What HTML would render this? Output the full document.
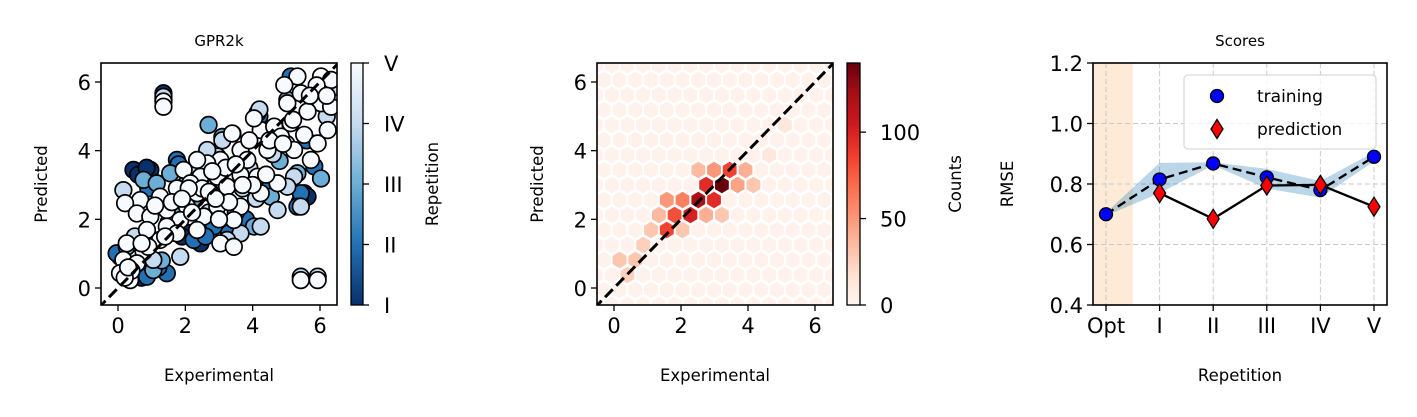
<!DOCTYPE html>
<html><head><meta charset="utf-8"><style>
html,body{margin:0;padding:0;background:#fff;}
svg{display:block;font-family:"DejaVu Sans","Liberation Sans",sans-serif;}
</style></head><body>
<svg id="fig" width="1417" height="417" viewBox="0 0 1417 417" xmlns="http://www.w3.org/2000/svg">
<defs>
<linearGradient id="blues" x1="0" y1="1" x2="0" y2="0">
<stop offset="0" stop-color="#08306b"/><stop offset="0.25" stop-color="#2171b5"/><stop offset="0.5" stop-color="#6baed6"/><stop offset="0.75" stop-color="#c6dbef"/><stop offset="1" stop-color="#f7fbff"/>
</linearGradient>
<linearGradient id="reds" x1="0" y1="1" x2="0" y2="0">
<stop offset="0" stop-color="#fff5f0"/><stop offset="0.125" stop-color="#fee0d2"/><stop offset="0.25" stop-color="#fcbba1"/><stop offset="0.375" stop-color="#fc9272"/><stop offset="0.5" stop-color="#fb6a4a"/><stop offset="0.625" stop-color="#ef3b2c"/><stop offset="0.75" stop-color="#cb181d"/><stop offset="0.875" stop-color="#a50f15"/><stop offset="1" stop-color="#67000d"/>
</linearGradient>
<clipPath id="clip1"><rect x="101" y="63" width="236" height="242"/></clipPath>
<clipPath id="clip2"><rect x="597" y="63" width="236" height="242"/></clipPath>
<clipPath id="clip3"><rect x="1093" y="63" width="294" height="242"/></clipPath>
</defs>
<g id="p1"></g>
<g id="p2"></g>
<g id="p3"></g>
</svg>
<script>
// ---------- Panel 1 data (Experimental, Predicted) per repetition ----------
const rep1X=[0.46,0.96,1.35,5.53,2.45,0.06,5.63,1.35,0.7,2.1,0.6,0.85,5.4,3.0,1.9];
const rep1Y=[3.44,3.44,5.67,2.76,1.30,0.91,2.66,5.5,0.3,1.6,3.3,3.5,2.5,1.9,1.5];
const rep2X=[1.75,5.83,1.45,0.86,5.43,5.33,2.85,2.25,-0.04,6.03,5.13,3.3,1.1,4.5,1.8,1.2,2.6,4.2,5.6,3.8,0.9];
const rep2Y=[3.73,3.54,0.43,0.33,2.76,2.37,1.79,1.40,1.01,6.06,6.16,1.6,2.4,2.9,3.6,0.6,1.5,5.0,4.3,2.0,2.9];
const rep3X=[2.69,5.33,6.03,0.76,1.15,1.55,1.05,4.54,4.04,0.26,5.03,3.5,2.0,1.3,3.1,2.3,4.8,1.6,0.3];
const rep3Y=[4.75,3.34,3.19,3.15,3.05,3.34,0.52,2.66,1.79,1.20,5.48,2.2,3.0,0.8,4.4,2.6,3.7,2.3,0.5];
const rep4X=[4.14,0.16,6.03,5.43,4.24,3.64,3.24,5.23,5.03,2.95,2.65,5.43,5.93,1.85,1.05,4.74,1.35,6.43,4.2,6.2,2.7,3.9,3.4,3.1,2.2,1.5,4.6,5.0,0.5,3.7,2.9,4.1];
const rep4Y=[5.09,2.85,5.77,2.37,1.79,1.59,1.40,3.24,2.95,3.83,4.02,0.33,0.33,0.91,0.82,2.27,5.57,5.86,5.2,5.0,2.2,3.5,4.5,4.3,3.3,1.9,3.9,4.2,1.5,2.9,3.0,2.6];
const rep5X=[5.33,4.94,6.03,6.33,5.43,6.03,6.33,5.63,5.03,4.24,4.64,4.84,5.53,6.23,3.39,3.64,4.44,5.23,3.84,3.04,2.65,2.35,1.95,2.45,2.95,3.64,4.14,4.74,3.24,2.35,1.75,1.25,0.66,0.21,0.56,0.96,1.45,2.05,2.55,2.95,3.64,4.24,3.44,1.85,1.45,0.86,1.25,1.75,2.35,3.04,3.44,0.26,0.76,0.16,0.06,0.36,0.56,5.43,5.93,1.35,5.73,5.93,5.13,4.04,1.35,2.75,2.15,5.9,6.2,5.2,4.5,3.9,3.2,2.8,2.5,3.5,4.0,2.1,1.6,1.1,0.4,0.2,0.9,1.9,2.7,3.3,3.0,4.4,4.9,5.7,1.4,0.7,0.3,2.2,2.9,3.7];
const rep5Y=[6.16,5.91,6.16,6.06,5.67,5.38,5.28,5.14,5.38,4.60,4.70,4.41,4.46,4.60,4.50,4.02,4.02,4.02,3.73,3.73,3.63,3.73,3.44,3.24,3.24,3.29,3.24,3.05,2.95,2.76,2.90,2.66,2.56,2.47,2.17,2.08,2.27,2.37,2.08,2.37,2.37,2.76,1.98,1.98,1.79,1.69,1.40,1.59,1.69,1.30,1.20,1.30,1.06,0.82,0.43,0.23,0.72,0.23,0.23,5.43,3.73,4.21,4.80,4.94,5.28,2.76,3.05,5.9,5.6,4.9,4.3,4.3,3.5,3.4,2.9,3.6,3.0,2.9,2.5,2.4,0.5,0.3,1.2,2.6,2.8,2.5,2.0,3.3,4.2,5.6,1.5,1.3,0.6,2.2,2.6,3.0];
const repColors=["#08306b","#2171b5","#6baed6","#c6dbef","#f7fbff"];
const repLabels=["I","II","III","IV","V"];
const axisTicks=[0,2,4,6];

// ---------- Panel 2 hexbin: notable cells (x centre, y centre, count) ----------
const hexX=[3.22,2.52,2.75,2.99,2.28,1.81,3.46,1.58,2.05,1.58,2.99,2.52,3.69,3.93,4.16,1.34,2.75,3.22,2.05,1.11,0.87,0.17,0.64,0.40,5.93,4.63,5.10];
const hexY=[3.00,2.56,3.00,2.56,2.13,2.13,3.44,1.69,2.56,2.56,3.44,3.44,3.00,3.44,3.00,2.13,2.13,2.13,1.69,1.69,1.25,0.82,0.82,0.38,5.19,3.87,4.75];
const hexCount=[140,120,95,95,100,80,85,85,60,50,50,35,45,40,30,35,40,30,30,30,25,30,30,25,22,12,12];
const hexBackground=3;
const countTicks=[0,50,100];
const countMax=140;

// ---------- Panel 3 scores ----------
const repCats=["Opt","I","II","III","IV","V"];
const trainRMSE=[0.70,0.815,0.868,0.822,0.78,0.89];
const bandUpper=[0.705,0.87,0.872,0.85,0.81,0.905];
const bandLower=[0.695,0.77,0.862,0.785,0.755,0.875];
const predRMSE=[null,0.77,0.685,0.795,0.797,0.725];
const rmseTicks=[0.4,0.6,0.8,1.0,1.2];

const NS="http://www.w3.org/2000/svg";
const TICK_FS=21, LAB_FS=16.5, TITLE_FS=15;
function mk(parent,tag,attrs,text){const e=document.createElementNS(NS,tag);for(const k in attrs)e.setAttribute(k,attrs[k]);if(text!==undefined)e.textContent=text;parent.appendChild(e);return e;}

// ===== Panel 1 =====
const p1=document.getElementById('p1');
const x1=v=>118+(v-0)*(320-118)/6;
const y1=v=>288-(v-0)*(288-82)/6;
function frameAxes(g,L,T,W,H){
  const r=mk(g,'rect',{x:L,y:T,width:W,height:H,fill:'none',stroke:'#000','stroke-width':1.6});
  
  
}
function squareAxes(g,L,T,W,H){
  const bg=mk(g,'rect',{x:L,y:T,width:W,height:H,fill:'#fff'});
  
  
}
function squareTicks(g,xs,ys,B,L){
  axisTicks.forEach(t=>{
    const tx=mk(g,'line',{x1:xs(t),x2:xs(t),y1:B,y2:B+6,stroke:'#000','stroke-width':1.3});
    
    
    const lx=mk(g,'text',{x:xs(t),y:B+28,'font-size':TICK_FS,'text-anchor':'middle'},String(t));
    
    
    const ty=mk(g,'line',{x1:L-6,x2:L,y1:ys(t),y2:ys(t),stroke:'#000','stroke-width':1.3});
    
    
    const ly=mk(g,'text',{x:L-10,y:ys(t)+8,'font-size':TICK_FS,'text-anchor':'end'},String(t));
    
    
  });
}
squareAxes(p1,101,63,236,242);
const sc=mk(p1,'g',{'clip-path':'url(#clip1)'});


[[rep1X,rep1Y],[rep2X,rep2Y],[rep3X,rep3Y],[rep4X,rep4Y],[rep5X,rep5Y]].forEach((s,ri)=>{
  s[0].forEach((xv,i)=>{
    const c=mk(sc,'circle',{cx:x1(xv),cy:y1(s[1][i]),r:8.3,fill:repColors[ri],stroke:'#000','stroke-width':1.7});
    
    
  });
});
const d1=mk(sc,'line',{x1:x1(-0.6),y1:y1(-0.6),x2:x1(6.6),y2:y1(6.6),stroke:'#000','stroke-width':3,'stroke-dasharray':'11,5'});


frameAxes(p1,101,63,236,242);
squareTicks(p1,x1,y1,305,101);
let t=mk(p1,'text',{x:219,y:46,'font-size':TITLE_FS,'text-anchor':'middle'},'GPR2k');

t=mk(p1,'text',{x:219,y:381,'font-size':LAB_FS,'text-anchor':'middle'},'Experimental');

t=mk(p1,'text',{x:0,y:0,'font-size':LAB_FS,'text-anchor':'middle',transform:'translate(47,184) rotate(-90)'},'Predicted');

let cb=mk(p1,'rect',{x:351,y:63,width:12,height:242,fill:'url(#blues)',stroke:'#000','stroke-width':1.3});

repLabels.forEach((l,i)=>{
  const yy=305-i*242/4;
  const tk=mk(p1,'line',{x1:363,x2:369,y1:yy,y2:yy,stroke:'#000','stroke-width':1.3});
  
  const tl=mk(p1,'text',{x:384,y:yy+8,'font-size':TICK_FS},l);
  
});
t=mk(p1,'text',{x:0,y:0,'font-size':LAB_FS,'text-anchor':'middle',transform:'translate(438,184) rotate(-90)'},'Repetition');


// ===== Panel 2 =====
const p2=document.getElementById('p2');
const x2=v=>614+(v-0)*(815-614)/6;
const y2=v=>288-(v-0)*(288-82)/6;
const redStops=["#fff5f0","#fee0d2","#fcbba1","#fc9272","#fb6a4a","#ef3b2c","#cb181d","#a50f15","#67000d"];
function hx(h){return [parseInt(h.substr(1,2),16),parseInt(h.substr(3,2),16),parseInt(h.substr(5,2),16)];}
function redColor(v){let f=Math.max(0,Math.min(1,v/countMax))*8;const i=Math.min(7,Math.floor(f));const r=f-i;const a=hx(redStops[i]),b=hx(redStops[i+1]);return 'rgb('+a.map((c,k)=>Math.round(c+(b[k]-c)*r)).join(',')+')';}
squareAxes(p2,597,63,236,242);
const hg=mk(p2,'g',{'clip-path':'url(#clip2)'});

const DX=0.47,DY=0.437;
for(let k=-10;k<=10;k++){
  const yy=3.0+k*DY;
  if(yy<-0.8||yy>6.9)continue;
  const off=(Math.abs(k)%2===0)?3.22:2.985;
  for(let n=-12;n<=12;n++){
    const xx=off+n*DX;
    if(xx<-0.8||xx>6.9)continue;
    let cnt=hexBackground;
    for(let j=0;j<hexX.length;j++){if(Math.abs(hexX[j]-xx)<0.12&&Math.abs(hexY[j]-yy)<0.12){cnt=hexCount[j];}}
    const cx=x2(xx),cy=y2(yy),w=6.9,h=8.2;
    const pts=[[0,-h],[w,-h/2],[w,h/2],[0,h],[-w,h/2],[-w,-h/2]].map(p=>(cx+p[0]).toFixed(1)+','+(cy+p[1]).toFixed(1)).join(' ');
    const hp=mk(hg,'polygon',{points:pts,fill:redColor(cnt)});
    
    
  }
}
const d2=mk(hg,'line',{x1:x2(-0.6),y1:y2(-0.6),x2:x2(6.6),y2:y2(6.6),stroke:'#000','stroke-width':3,'stroke-dasharray':'11,5'});

frameAxes(p2,597,63,236,242);
squareTicks(p2,x2,y2,305,597);
t=mk(p2,'text',{x:715,y:381,'font-size':LAB_FS,'text-anchor':'middle'},'Experimental');

t=mk(p2,'text',{x:0,y:0,'font-size':LAB_FS,'text-anchor':'middle',transform:'translate(543,184) rotate(-90)'},'Predicted');

cb=mk(p2,'rect',{x:847,y:63,width:13,height:242,fill:'url(#reds)',stroke:'#000','stroke-width':1.3});

countTicks.forEach(v=>{
  const yy=305-v/countMax*242;
  const tk=mk(p2,'line',{x1:860,x2:866,y1:yy,y2:yy,stroke:'#000','stroke-width':1.3});
  
  const tl=mk(p2,'text',{x:880,y:yy+8,'font-size':TICK_FS},String(v));
  
});
t=mk(p2,'text',{x:0,y:0,'font-size':LAB_FS,'text-anchor':'middle',transform:'translate(961,184) rotate(-90)'},'Counts');


// ===== Panel 3 =====
const p3=document.getElementById('p3');
const L3=1093,R3=1387,T3=63,B3=305;
const x3=i=>1106+i*(1374-1106)/5;
const y3=v=>B3-(v-0.4)/(1.2-0.4)*(B3-T3);
const g3=mk(p3,'g',{'clip-path':'url(#clip3)'});

let sh=mk(g3,'rect',{x:L3,y:T3,width:x3(0.5)-L3,height:B3-T3,fill:'#fdebd8'});

repCats.forEach((c,i)=>{
  const gl=mk(g3,'line',{x1:x3(i),x2:x3(i),y1:T3,y2:B3,stroke:'#c8c8c8','stroke-width':1,'stroke-dasharray':'5,3'});
  
});
rmseTicks.forEach(v=>{
  const gl=mk(g3,'line',{x1:L3,x2:R3,y1:y3(v),y2:y3(v),stroke:'#c8c8c8','stroke-width':1,'stroke-dasharray':'5,3'});
  
});
let bandPts=bandUpper.map((v,i)=>x3(i)+','+y3(v));
bandPts=bandPts.concat(bandLower.map((v,i)=>x3(i)+','+y3(v)).reverse());
const band=mk(g3,'polygon',{points:bandPts.join(' '),fill:'#1f77b4','fill-opacity':0.3});

const tl3=mk(g3,'polyline',{points:trainRMSE.map((v,i)=>x3(i)+','+y3(v)).join(' '),fill:'none',stroke:'#000','stroke-width':2.3,'stroke-dasharray':'9,5'});

const pl3=mk(g3,'polyline',{points:predRMSE.map((v,i)=>v===null?null:x3(i)+','+y3(v)).filter(p=>p).join(' '),fill:'none',stroke:'#000','stroke-width':2.3});

trainRMSE.forEach((v,i)=>{
  const c=mk(g3,'circle',{cx:x3(i),cy:y3(v),r:6.5,fill:'#0000ff',stroke:'#000','stroke-width':1.3});
  
});
function diamond(cx,cy){return [[0,-9.5],[6,0],[0,9.5],[-6,0]].map(p=>(cx+p[0])+','+(cy+p[1])).join(' ');}
predRMSE.forEach((v,i)=>{
  if(v===null)return;
  const d=mk(g3,'polygon',{points:diamond(x3(i),y3(v)),fill:'#ff0000',stroke:'#000','stroke-width':1.3});
  
});
frameAxes(p3,L3,T3,R3-L3,B3-T3);
repCats.forEach((c,i)=>{
  const tk=mk(p3,'line',{x1:x3(i),x2:x3(i),y1:B3,y2:B3+6,stroke:'#000','stroke-width':1.3});
  
  const lb=mk(p3,'text',{x:x3(i),y:B3+28,'font-size':TICK_FS,'text-anchor':'middle'},c);
  
});
rmseTicks.forEach(v=>{
  const tk=mk(p3,'line',{x1:L3-6,x2:L3,y1:y3(v),y2:y3(v),stroke:'#000','stroke-width':1.3});
  
  const lb=mk(p3,'text',{x:L3-10,y:y3(v)+8,'font-size':TICK_FS,'text-anchor':'end'},v.toFixed(1));
  
});
t=mk(p3,'text',{x:1240,y:46,'font-size':TITLE_FS,'text-anchor':'middle'},'Scores');

t=mk(p3,'text',{x:1240,y:381,'font-size':LAB_FS,'text-anchor':'middle'},'Repetition');

t=mk(p3,'text',{x:0,y:0,'font-size':LAB_FS,'text-anchor':'middle',transform:'translate(1013,184) rotate(-90)'},'RMSE');

const lg=mk(p3,'g',{});

const lr=mk(lg,'rect',{x:1184,y:75,width:192,height:74,rx:4,fill:'#fff','fill-opacity':0.8,stroke:'#d9d9d9','stroke-width':1.3});

const lc=mk(lg,'circle',{cx:1217,cy:96,r:6.5,fill:'#0000ff',stroke:'#000','stroke-width':1.3});

const lt1=mk(lg,'text',{x:1257,y:102,'font-size':17},'training');

const ld=mk(lg,'polygon',{points:diamond(1217,129),fill:'#ff0000',stroke:'#000','stroke-width':1.3});

const lt2=mk(lg,'text',{x:1257,y:135,'font-size':17},'prediction');

</script>
</body></html>
